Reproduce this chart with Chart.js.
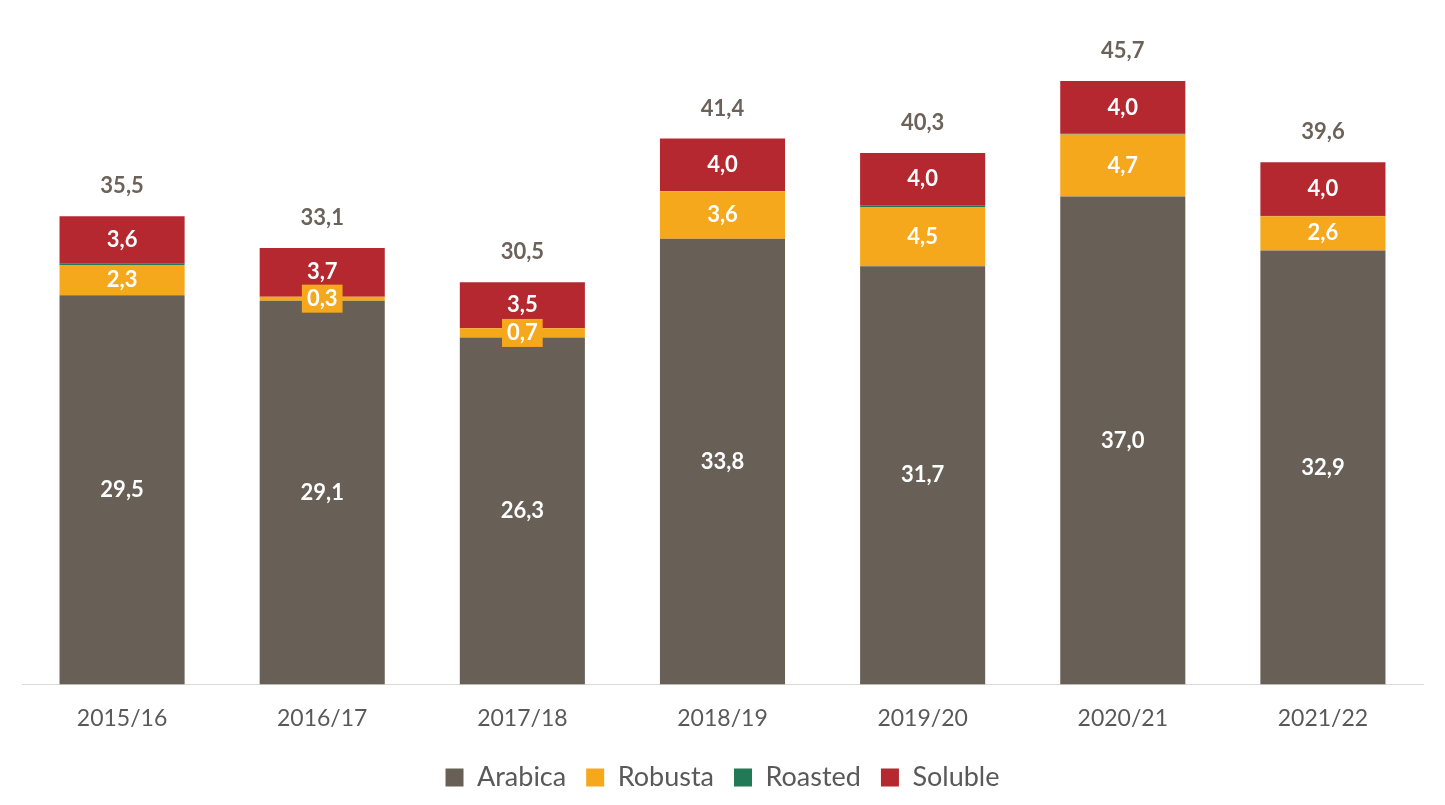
<!DOCTYPE html>
<html>
<head>
<meta charset="utf-8">
<script src="https://cdn.jsdelivr.net/npm/chart.js@4"></script>
<style>
  html, body { margin: 0; padding: 0; background: #fff; }
  #wrap { width: 1445px; height: 805px; }
</style>
</head>
<body>
<div id="wrap"><canvas id="grafico"></canvas></div>
<script>
const safras = ['2015/16', '2016/17', '2017/18', '2018/19', '2019/20', '2020/21', '2021/22'];
const arabica = [29.5, 29.1, 26.3, 33.8, 31.7, 37.0, 32.9];
const robusta = [2.3, 0.3, 0.7, 3.6, 4.5, 4.7, 2.6];
const roasted = [0.1, 0.0, 0.0, 0.0, 0.1, 0.05, 0.1];
const soluble = [3.6, 3.7, 3.5, 4.0, 4.0, 4.0, 4.0];
const totais = [35.5, 33.1, 30.5, 41.4, 40.3, 45.7, 39.6];

const fmt = v => v.toFixed(1).replace('.', ',');

// rótulos dentro das barras + total acima
const rotulos = {
    id: 'rotulos',
    afterDatasetsDraw(chart) {
        const ctx = chart.ctx;
        ctx.save();
        ctx.font = 'bold 22px Lato';
        ctx.textAlign = 'center';
        ctx.textBaseline = 'middle';
        chart.data.datasets.forEach((ds, i) => {
            if (ds.label === 'Roasted') return;
            chart.getDatasetMeta(i).data.forEach((bar, j) => {
                const v = ds.data[j];
                const y = (bar.y + bar.base) / 2;
                if (ds.label === 'Robusta' && v < 1) {
                    const w = ctx.measureText(fmt(v)).width + 10;
                    ctx.fillStyle = '#f5a81c';
                    ctx.fillRect(bar.x - w / 2, y - 14, w, 28);
                }
                ctx.fillStyle = '#fff';
                ctx.fillText(fmt(v), bar.x, y);
            });
        });
        const meta = chart.getDatasetMeta(3);
        ctx.fillStyle = '#6b625a';
        meta.data.forEach((bar, j) => {
            ctx.fillText(fmt(totais[j]), bar.x, bar.y - 30);
        });
        ctx.restore();
    }
};

new Chart(document.getElementById('grafico').getContext('2d'), {
    type: 'bar',
    data: {
        labels: safras,
        datasets: [
            { label: 'Arabica', data: arabica, backgroundColor: '#686057' },
            { label: 'Robusta', data: robusta, backgroundColor: '#f5a81c' },
            { label: 'Roasted', data: roasted, backgroundColor: '#217a55' },
            { label: 'Soluble', data: soluble, backgroundColor: '#b5282f' }
        ]
    },
    options: {
        responsive: true,
        maintainAspectRatio: false,
        animation: false,
        layout: { padding: { top: 25, left: 22, right: 22, bottom: 4 } },
        datasets: { bar: { categoryPercentage: 1, barPercentage: 0.625 } },
        scales: {
            x: {
                stacked: true,
                grid: { display: false },
                border: { color: '#d9d9d9' },
                ticks: { color: '#595959', font: { family: 'Lato', size: 23 }, padding: 12 }
            },
            y: { stacked: true, display: false, min: 0, max: 50 }
        },
        plugins: {
            legend: {
                position: 'bottom',
                labels: { color: '#595959', font: { family: 'Lato', size: 27 }, boxWidth: 18, boxHeight: 18, padding: 20 }
            },
            tooltip: { enabled: false }
        }
    },
    plugins: [rotulos]
});
</script>
</body>
</html>
